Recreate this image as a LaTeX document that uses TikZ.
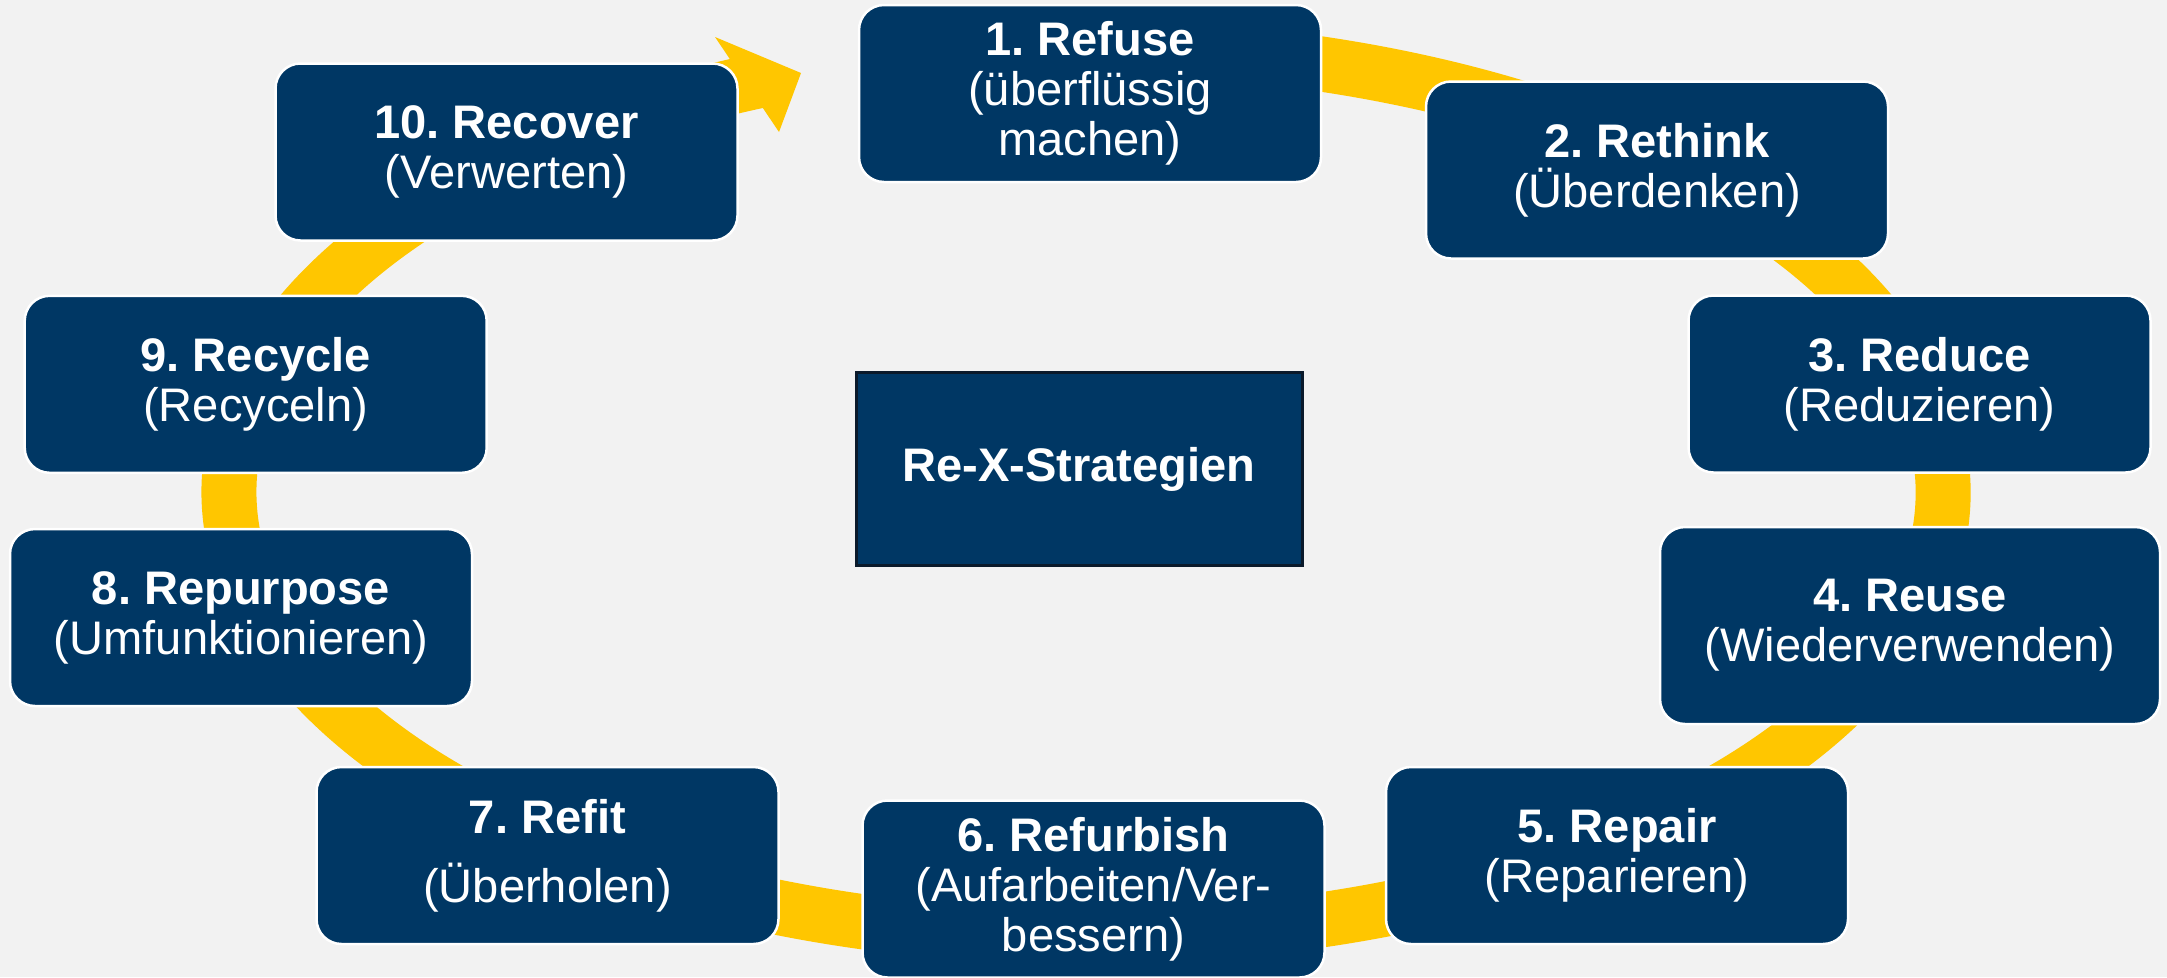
\documentclass[tikz,border=0pt]{standalone}
\usepackage{fontspec}
\setmainfont{Liberation Sans}
\usetikzlibrary{arrows.meta}
\definecolor{rexblue}{HTML}{003764}
\definecolor{rexyellow}{HTML}{FFC600}
\definecolor{rexgray}{HTML}{F2F2F2}
\definecolor{rexborder}{HTML}{0B1A2B}
\tikzset{%
    strategy/.style={rectangle, rounded corners=2.5mm, fill=rexblue, draw=white,
        line width=0.25mm, text=white, align=center, inner sep=0pt,
        minimum width=46.2mm, minimum height=17.7mm,
        font=\fontsize{13.4pt}{14.2pt}\selectfont\frenchspacing},
    ring/.style={draw=rexyellow, line width=5.5mm}
}

\begin{document}
\begin{tikzpicture}[x=0.1mm, y=-0.1mm]
  \useasboundingbox (0,0) rectangle (2167,977);
  \fill[rexgray] (0,0) rectangle (2167,977);

  \coordinate (ringstart) at ({1086+857*cos(-100)},{492+445*sin(-100)});
  \draw[ring] (ringstart) arc[start angle=-100, end angle=247.5, x radius=857, y radius=445];
  \coordinate (arrowtip) at (801,73);
  \coordinate (arrowup) at (715,37);
  \coordinate (arrowlow) at (779,132);
  \fill[rexyellow] (arrowtip) -- (arrowup) -- (arrowlow) -- cycle;

  \node[strategy] (refuse) at (1090,93.5) {\textbf{1. Refuse}\\(überflüssig\\machen)};
  \node[strategy] (rethink) at (1657,170) {\textbf{2. Rethink}\\(Überdenken)};
  \node[strategy] (reduce) at (1919.5,384) {\textbf{3. Reduce}\\(Reduzieren)};
  \node[strategy, minimum width=50mm, minimum height=19.7mm] (reuse) at (1910,625.5) {\textbf{4. Reuse}\\(Wiederverwenden)};
  \node[strategy] (repair) at (1617,855.5) {\textbf{5. Repair}\\(Reparieren)};
  \node[strategy] (refurbish) at (1093.5,889) {\textbf{6. Refurbish}\\(Aufarbeiten/Ver-\\bessern)};
  \node[strategy] (refit) at (547.5,855.5) {\textbf{7. Refit}\\[1.9mm](Überholen)};
  \node[strategy] (repurpose) at (241,617.5) {\textbf{8. Repurpose}\\(Umfunktionieren)};
  \node[strategy] (recycle) at (255.7,384.3) {\textbf{9. Recycle}\\(Recyceln)};
  \node[strategy] (recover) at (506.5,152) {\textbf{10. Recover}\\(Verwerten)};

  \node[strategy, rounded corners=0pt, draw=rexborder, line width=0.3mm,
        minimum width=44.6mm, minimum height=19.3mm] (rex) at (1079,469) {\textbf{Re-X-Strategien}};
\end{tikzpicture}
\end{document}
